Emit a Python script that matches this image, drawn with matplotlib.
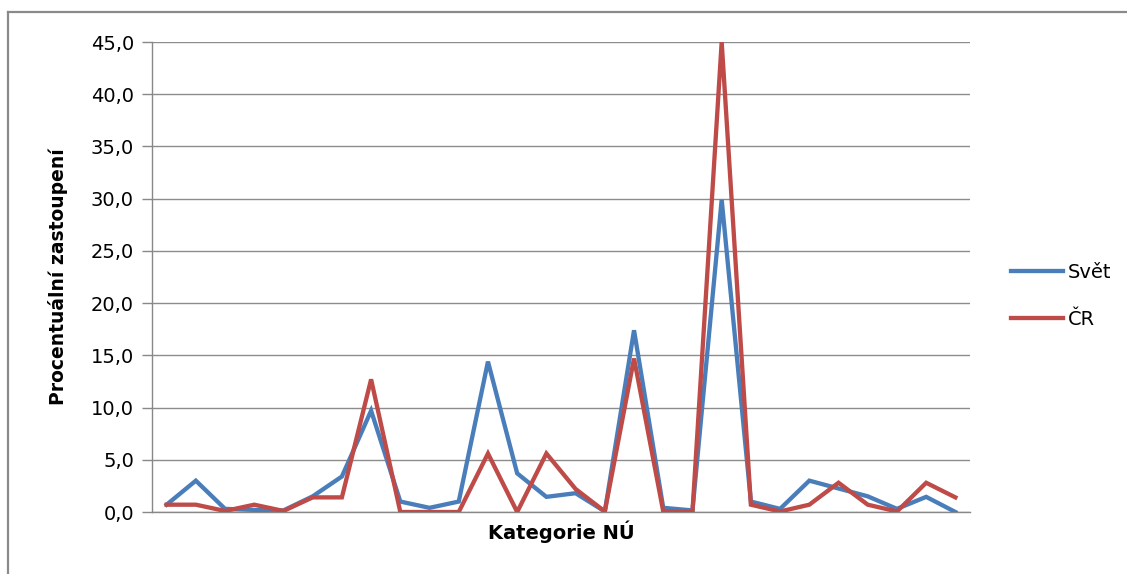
import matplotlib
matplotlib.use("Agg")
import matplotlib.pyplot as plt
from matplotlib.lines import Line2D

# Share of each category (%), world vs. Czech Republic
categories = list(range(1, 29))
svet = [0.7, 3.0, 0.3, 0.2, 0.15, 1.5, 3.4, 9.7, 1.0, 0.4, 1.0, 14.4, 3.7, 1.45,
        1.8, 0.05, 17.4, 0.4, 0.15, 29.9, 1.0, 0.3, 3.0, 2.25, 1.5, 0.3, 1.45, 0.0]
cr = [0.7, 0.7, 0.1, 0.7, 0.1, 1.4, 1.4, 12.7, 0.0, 0.0, 0.0, 5.6, 0.0, 5.6,
      2.2, 0.05, 14.7, 0.05, 0.0, 45.0, 0.7, 0.05, 0.7, 2.8, 0.7, 0.05, 2.8, 1.4]
y_ticks = [0, 5, 10, 15, 20, 25, 30, 35, 40, 45]
y_tick_labels = [f"{v:.1f}".replace(".", ",") for v in y_ticks]

plt.rcParams["font.family"] = ["DejaVu Sans"]

fig = plt.figure(figsize=(11.27, 5.74), dpi=100)
ax = fig.add_axes([152 / 1127, 1 - 512 / 574, (970 - 152) / 1127, (512 - 42) / 574])

x = list(range(len(categories)))
ax.plot(x, svet, color="#4A7EBB", lw=3.1, label="Svět", solid_joinstyle="miter", zorder=3)
ax.plot(x, cr, color="#BE4B48", lw=3.1, label="ČR", solid_joinstyle="miter", zorder=4)

ax.set_xlim(-0.5, len(categories) - 0.5)
ax.set_ylim(0, 45)
ax.set_yticks(y_ticks)
ax.set_yticklabels(y_tick_labels, fontsize=14)
ax.set_xticks([])
ax.tick_params(axis="y", length=7, width=1, color="#888888", pad=6)
ax.grid(axis="y", color="#8c8c8c", lw=1)
ax.set_axisbelow(True)
for side in ("top", "right"):
    ax.spines[side].set_visible(False)
for side in ("left", "bottom"):
    ax.spines[side].set_color("#888888")
    ax.spines[side].set_linewidth(1)

ax.set_xlabel("Kategorie NÚ", fontsize=14, fontweight="bold", labelpad=6)
ax.set_ylabel("Procentuální zastoupení", fontsize=13.5, fontweight="bold", labelpad=16)

fig.legend(loc="center left", bbox_to_anchor=(993 / 1127, 1 - 296 / 574),
           frameon=False, fontsize=14, handlelength=2.7, handletextpad=0.25,
           labelspacing=1.45)

# chart frame
fig.add_artist(Line2D([8 / 1127, 1.0], [1 - 12 / 574] * 2, transform=fig.transFigure,
                      color="#8a8a8a", lw=1.6))
fig.add_artist(Line2D([8 / 1127] * 2, [0.0, 1 - 12 / 574], transform=fig.transFigure,
                      color="#8a8a8a", lw=1.6))

fig.savefig("out.png", dpi=100)
